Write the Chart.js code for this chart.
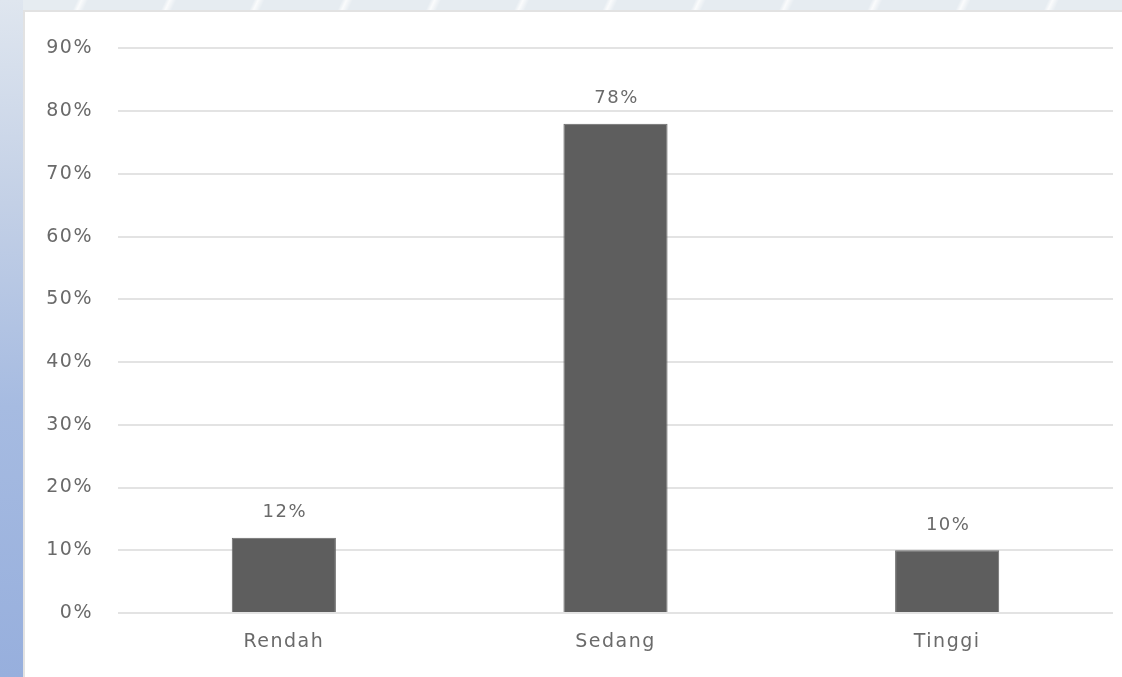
<!DOCTYPE html>
<html>
<head>
<meta charset="utf-8">
<script src="https://cdn.jsdelivr.net/npm/chart.js@4/dist/chart.umd.min.js"></script>
<style>
  html, body { margin: 0; padding: 0; }
  body {
    width: 1122px; height: 677px; position: relative; overflow: hidden;
    background:
      repeating-linear-gradient(115deg, rgba(255,255,255,0) 0px, rgba(255,255,255,0) 70px, rgba(255,255,255,0.8) 74px, rgba(255,255,255,0) 80px),
      #e6ecf1;
  }
  #side {
    position: absolute; left: 0; top: 0; width: 23px; height: 677px;
    background: linear-gradient(to bottom, #dfe6ef 0%, #c3d0e6 30%, #a6bbe1 60%, #97afdd 100%);
  }
  #panel {
    position: absolute; left: 23px; top: 10px; width: 1099px; height: 667px;
    background: #ffffff;
    border-left: 2px solid #e2e2e2; border-top: 2px solid #e2e2e2;
    box-sizing: border-box;
  }
  #chart { position: absolute; left: 0; top: 0; }
</style>
</head>
<body>
<div id="side"></div>
<div id="panel">
  <canvas id="chart" width="1097" height="665"></canvas>
</div>
<script>
// Kategori tingkat dan persentasenya
const categories = ['Rendah', 'Sedang', 'Tinggi'];
const percentages = [12, 78, 10];
const yTicks = [0, 10, 20, 30, 40, 50, 60, 70, 80, 90];

const textColor = '#6a6a6a';
const fontFamily = '"DejaVu Sans", "Liberation Sans", sans-serif';

// Sedikit jarak antar huruf untuk semua teks pada kanvas
const wideText = {
  id: 'wideText',
  beforeDraw(chart) { chart.ctx.letterSpacing = '1.5px'; }
};

// Label nilai di atas setiap batang
const valueLabels = {
  id: 'valueLabels',
  afterDatasetsDraw(chart) {
    const ctx = chart.ctx;
    const meta = chart.getDatasetMeta(0);
    ctx.save();
    ctx.fillStyle = textColor;
    ctx.font = '18px ' + fontFamily;
    ctx.textAlign = 'center';
    ctx.textBaseline = 'middle';
    meta.data.forEach((bar, i) => {
      ctx.fillText(chart.data.datasets[0].data[i] + '%', bar.x + 1, bar.y - 25);
    });
    ctx.restore();
  }
};

new Chart(document.getElementById('chart'), {
  type: 'bar',
  data: {
    labels: categories,
    datasets: [{
      data: percentages,
      backgroundColor: '#5e5e5e',
      borderColor: '#6a6a6a',
      borderWidth: 1,
      categoryPercentage: 1,
      barPercentage: 0.314
    }]
  },
  options: {
    responsive: false,
    animation: false,
    layout: { padding: { top: 30, right: 9, left: 0, bottom: 0 } },
    plugins: {
      legend: { display: false },
      tooltip: { enabled: false }
    },
    scales: {
      x: {
        grid: { display: false },
        border: { display: false },
        ticks: {
          color: textColor,
          font: { family: fontFamily, size: 19 },
          padding: 10
        },
        afterFit(scale) { scale.height = 64; }
      },
      y: {
        min: yTicks[0],
        max: yTicks[yTicks.length - 1],
        afterBuildTicks(scale) { scale.ticks = yTicks.map(v => ({ value: v })); },
        grid: { color: '#e3e3e3', lineWidth: 2, drawTicks: false },
        border: { display: false },
        ticks: {
          color: textColor,
          font: { family: fontFamily, size: 19 },
          padding: 25,
          callback: v => v + '%'
        },
        afterFit(scale) { scale.width = 93; }
      }
    }
  },
  plugins: [wideText, valueLabels]
});
</script>
</body>
</html>
